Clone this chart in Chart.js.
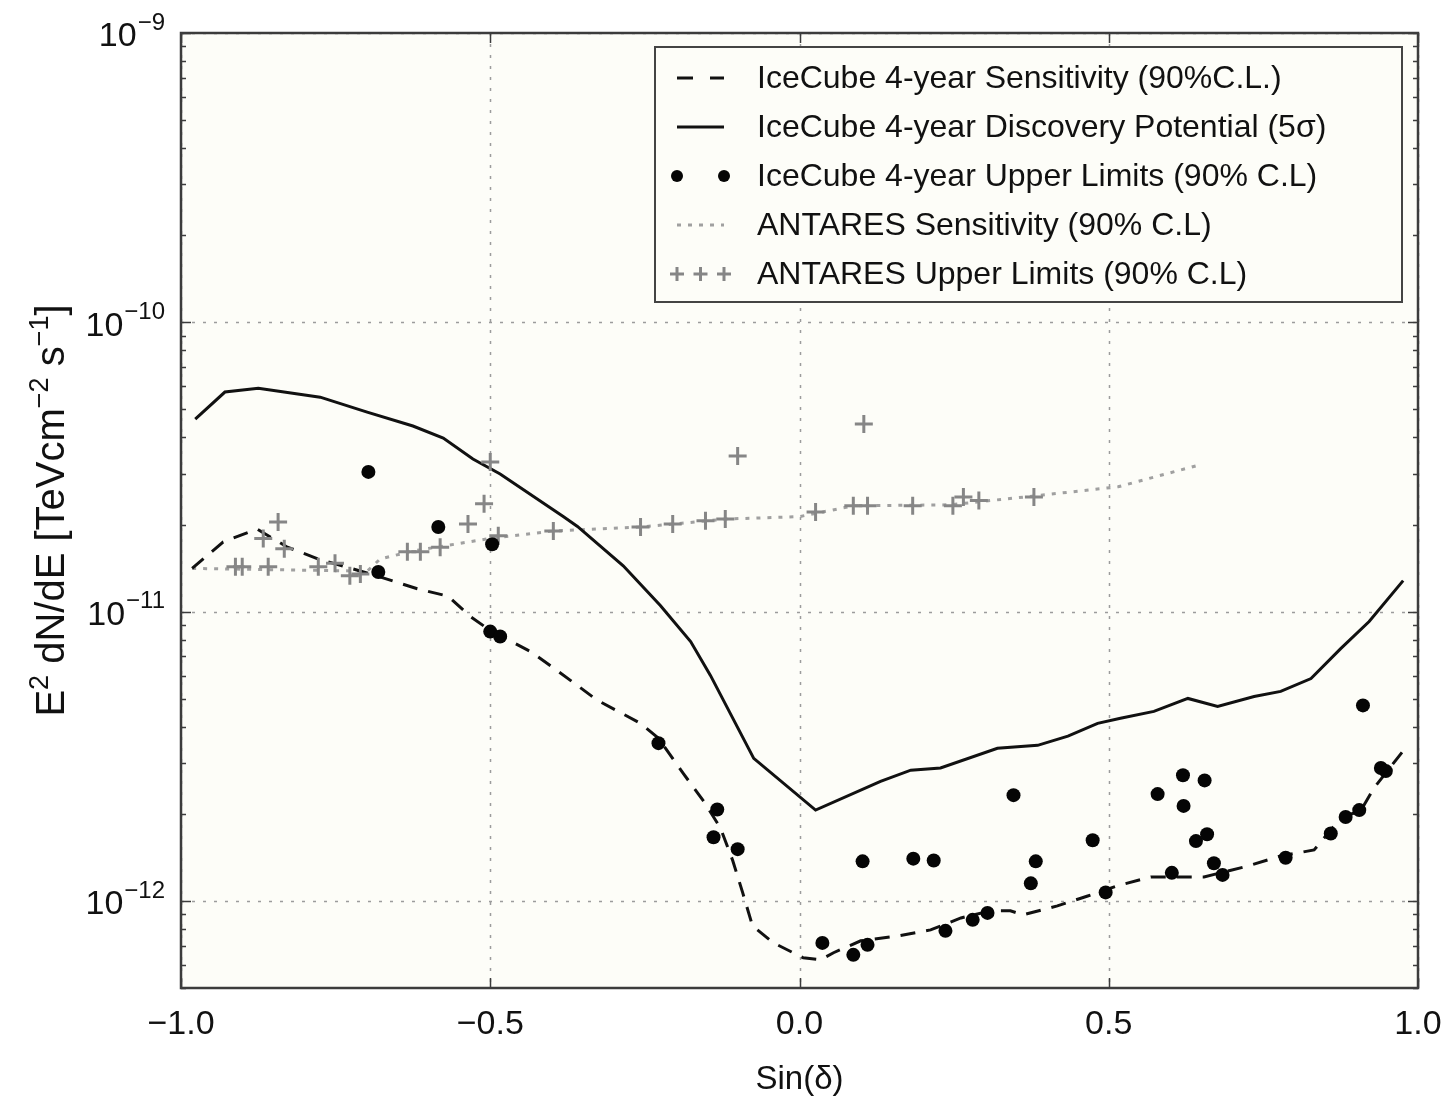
<!DOCTYPE html>
<html><head><meta charset="utf-8">
<script src="https://cdn.jsdelivr.net/npm/chart.js@4.4.0/dist/chart.umd.min.js"></script>
<style>html,body{margin:0;padding:0;background:#fff}canvas{display:block}</style>
</head><body>
<canvas id="c" width="1452" height="1100"></canvas>
<script>
// ---------------- data ----------------
const xTickValues = [-1, -0.5, 0, 0.5, 1];
const xTickLabels = ['\u22121.0', '\u22120.5', '0.0', '0.5', '1.0'];
const yTickExponents = [-9, -10, -11, -12];
const xRange = [-1, 1];
const yRange = [5e-13, 1e-9];
const xTitle = 'Sin(\u03b4)';

const seriesLabels = [
  'IceCube 4-year Sensitivity (90%C.L.)',
  'IceCube 4-year Discovery Potential (5\u03c3)',
  'IceCube 4-year Upper Limits (90% C.L)',
  'ANTARES Sensitivity (90% C.L)',
  'ANTARES Upper Limits (90% C.L)'
];

const sensX = [-0.982,-0.932,-0.877,-0.828,-0.778,-0.694,-0.618,-0.568,-0.532,-0.5,-0.435,-0.392,-0.327,-0.257,-0.228,-0.188,-0.155,-0.128,-0.108,-0.092,-0.076,-0.042,0.006,0.034,0.055,0.099,0.160,0.212,0.261,0.309,0.341,0.361,0.417,0.466,0.515,0.568,0.654,0.725,0.778,0.832,0.875,0.908,0.929,0.977];
const sensY = [1.41e-11,1.74e-11,1.93e-11,1.67e-11,1.52e-11,1.35e-11,1.20e-11,1.13e-11,9.61e-12,8.6e-12,7.28e-12,6.26e-12,4.94e-12,4.11e-12,3.65e-12,2.76e-12,2.21e-12,1.79e-12,1.38e-12,1.07e-12,8.20e-13,7.16e-13,6.36e-13,6.26e-13,6.62e-13,7.28e-13,7.57e-13,7.94e-13,8.73e-13,9.24e-13,9.24e-13,8.95e-13,9.61e-13,1.04e-12,1.13e-12,1.21e-12,1.21e-12,1.32e-12,1.43e-12,1.50e-12,1.93e-12,2.06e-12,2.46e-12,3.32e-12];

const discX = [-0.977,-0.929,-0.875,-0.775,-0.699,-0.625,-0.576,-0.528,-0.484,-0.382,-0.359,-0.285,-0.225,-0.176,-0.144,-0.074,0.026,0.131,0.180,0.228,0.320,0.385,0.434,0.482,0.519,0.573,0.628,0.676,0.735,0.778,0.827,0.875,0.921,0.976];
const discY = [4.63e-11,5.74e-11,5.92e-11,5.51e-11,4.89e-11,4.38e-11,3.98e-11,3.37e-11,2.99e-11,2.13e-11,1.97e-11,1.44e-11,1.05e-11,7.88e-12,6.02e-12,3.11e-12,2.06e-12,2.59e-12,2.83e-12,2.88e-12,3.37e-12,3.45e-12,3.71e-12,4.11e-12,4.28e-12,4.52e-12,5.01e-12,4.70e-12,5.09e-12,5.30e-12,5.87e-12,7.45e-12,9.24e-12,1.28e-11];

const ulX = [-0.697,-0.584,-0.681,-0.497,-0.500,-0.484,-0.228,-0.133,-0.139,-0.100,0.102,0.037,0.087,0.110,0.346,0.184,0.217,0.382,0.374,0.474,0.236,0.280,0.304,0.495,0.911,0.620,0.655,0.579,0.621,0.641,0.659,0.670,0.684,0.602,0.786,0.859,0.883,0.905,0.940,0.948];
const ulY = [3.04e-11,1.96e-11,1.37e-11,1.71e-11,8.53e-12,8.20e-12,3.51e-12,2.07e-12,1.66e-12,1.51e-12,1.37e-12,7.16e-13,6.51e-13,7.05e-13,2.32e-12,1.40e-12,1.38e-12,1.37e-12,1.15e-12,1.62e-12,7.88e-13,8.60e-13,9.09e-13,1.07e-12,4.74e-12,2.72e-12,2.61e-12,2.34e-12,2.13e-12,1.61e-12,1.70e-12,1.35e-12,1.23e-12,1.25e-12,1.41e-12,1.71e-12,1.95e-12,2.06e-12,2.88e-12,2.81e-12];

const antSensX = [-0.982,-0.699,-0.678,-0.625,-0.5,-0.398,-0.257,-0.117,0.0,0.087,0.244,0.379,0.515,0.641];
const antSensY = [1.41e-11,1.38e-11,1.52e-11,1.62e-11,1.79e-11,1.90e-11,1.96e-11,2.09e-11,2.13e-11,2.32e-11,2.34e-11,2.51e-11,2.70e-11,3.19e-11];

const antUlX = [-0.912,-0.901,-0.859,-0.843,-0.867,-0.833,-0.778,-0.751,-0.727,-0.710,-0.634,-0.613,-0.581,-0.536,-0.510,-0.500,-0.487,-0.398,-0.257,-0.205,-0.152,-0.120,-0.100,0.026,0.087,0.110,0.104,0.183,0.248,0.265,0.290,0.379];
const antUlY = [1.43e-11,1.43e-11,1.43e-11,2.04e-11,1.79e-11,1.65e-11,1.43e-11,1.47e-11,1.33e-11,1.35e-11,1.61e-11,1.61e-11,1.67e-11,2.01e-11,2.36e-11,3.29e-11,1.83e-11,1.90e-11,1.96e-11,2.01e-11,2.06e-11,2.09e-11,3.45e-11,2.21e-11,2.32e-11,2.32e-11,4.45e-11,2.32e-11,2.32e-11,2.49e-11,2.42e-11,2.49e-11];

// ---------------- styling ----------------
const FONT = '"Liberation Sans", Arial, Helvetica, sans-serif';
const PLOT_BG = '#fdfdf8';
const FRAME = '#3c3c3c';
const GRID = '#9c9c9c';
const ANT_GRAY = '#868686';
const ANT_LINE = '#a0a0a0';

function pts(xs, ys) { return xs.map((x, i) => ({ x: x, y: ys[i] })); }

const decor = {
  id: 'decor',
  beforeDraw(chart) {
    const { ctx, chartArea: a } = chart;
    ctx.save();
    ctx.fillStyle = '#ffffff';
    ctx.fillRect(0, 0, chart.width, chart.height);
    ctx.fillStyle = PLOT_BG;
    ctx.fillRect(a.left, a.top, a.right - a.left, a.bottom - a.top);
    ctx.restore();
  },
  beforeDatasetsDraw(chart) {
    const { ctx, chartArea: a, scales } = chart;
    const xs = scales.x, ys = scales.y;
    ctx.save();
    ctx.strokeStyle = GRID;
    ctx.lineWidth = 1.5;
    ctx.setLineDash([3, 8]);
    xTickValues.forEach(v => {
      const px = Math.round(xs.getPixelForValue(v)) + 0.5;
      ctx.beginPath(); ctx.moveTo(px, a.top); ctx.lineTo(px, a.bottom); ctx.stroke();
    });
    yTickExponents.forEach(e => {
      const py = Math.round(ys.getPixelForValue(Math.pow(10, e))) + 0.5;
      ctx.beginPath(); ctx.moveTo(a.left, py); ctx.lineTo(a.right, py); ctx.stroke();
    });
    ctx.restore();
  },
  afterDraw(chart) {
    const { ctx, chartArea: a, scales } = chart;
    const xs = scales.x, ys = scales.y;
    ctx.save();
    // tick marks
    ctx.strokeStyle = FRAME;
    ctx.lineWidth = 1.5;
    ctx.setLineDash([]);
    xTickValues.forEach(v => {
      const px = Math.round(xs.getPixelForValue(v)) + 0.5;
      ctx.beginPath();
      ctx.moveTo(px, a.bottom); ctx.lineTo(px, a.bottom - 10);
      ctx.moveTo(px, a.top); ctx.lineTo(px, a.top + 10);
      ctx.stroke();
    });
    const lo = Math.floor(Math.log10(yRange[0])), hi = Math.ceil(Math.log10(yRange[1]));
    for (let e = lo; e <= hi; e++) {
      for (let m = 1; m <= 9; m++) {
        const v = m * Math.pow(10, e);
        if (v < yRange[0] * 0.999 || v > yRange[1] * 1.001) continue;
        const py = Math.round(ys.getPixelForValue(v)) + 0.5;
        const len = m === 1 ? 10 : 5;
        ctx.beginPath();
        ctx.moveTo(a.left, py); ctx.lineTo(a.left + len, py);
        ctx.moveTo(a.right, py); ctx.lineTo(a.right - len, py);
        ctx.stroke();
      }
    }
    // frame
    ctx.lineWidth = 2.5;
    ctx.strokeStyle = FRAME;
    ctx.strokeRect(a.left, a.top, a.right - a.left, a.bottom - a.top);

    // y tick labels with superscripts
    ctx.fillStyle = '#111';
    ctx.textBaseline = 'middle';
    const rightEdge = a.left - 16;
    yTickExponents.forEach(e => {
      const py = ys.getPixelForValue(Math.pow(10, e));
      const expTxt = '\u2212' + Math.abs(e);
      ctx.font = '24px ' + FONT;
      const we = ctx.measureText(expTxt).width;
      ctx.textAlign = 'left';
      ctx.fillText(expTxt, rightEdge - we, py - 10);
      ctx.font = '34px ' + FONT;
      ctx.textAlign = 'right';
      ctx.fillText('10', rightEdge - we - 1, py + 4);
    });

    // y axis title with superscripts
    const segs = [
      ['E', 0], ['2', 1], [' dN/dE [TeVcm', 0], ['\u22122', 1], [' s', 0], ['\u22121', 1], [']', 0]
    ];
    const baseF = '40px ' + FONT, supF = '27px ' + FONT;
    let total = 0;
    segs.forEach(s => { ctx.font = s[1] ? supF : baseF; total += ctx.measureText(s[0]).width; });
    ctx.translate(64, (a.top + a.bottom) / 2);
    ctx.rotate(-Math.PI / 2);
    ctx.textAlign = 'left';
    ctx.textBaseline = 'alphabetic';
    let cx = -total / 2;
    segs.forEach(s => {
      ctx.font = s[1] ? supF : baseF;
      ctx.fillText(s[0], cx, s[1] ? -16 : 0);
      cx += ctx.measureText(s[0]).width;
    });
    ctx.setTransform(1, 0, 0, 1, 0, 0);

    // legend
    const L = { x: 655, y: 47, w: 747, h: 255 };
    ctx.fillStyle = PLOT_BG;
    ctx.fillRect(L.x, L.y, L.w, L.h);
    ctx.lineWidth = 2;
    ctx.strokeStyle = '#444';
    ctx.strokeRect(L.x, L.y, L.w, L.h);
    const rowY0 = 78, rowDY = 49, hx0 = 677, hx1 = 724, tx = 757;
    const ds = chart.data.datasets;
    ds.forEach((d, i) => {
      const y = rowY0 + i * rowDY;
      ctx.save();
      if (d.showLine) {
        ctx.strokeStyle = d.borderColor;
        ctx.lineWidth = d.borderWidth;
        ctx.setLineDash(d.legendDash || []);
        ctx.beginPath(); ctx.moveTo(hx0, y); ctx.lineTo(hx1, y); ctx.stroke();
      } else if (d.pointStyle === 'cross') {
        ctx.strokeStyle = d.borderColor;
        ctx.lineWidth = d.borderWidth;
        [hx0, (hx0 + hx1) / 2, hx1].forEach(px => {
          const r = 7;
          ctx.beginPath();
          ctx.moveTo(px - r, y); ctx.lineTo(px + r, y);
          ctx.moveTo(px, y - r); ctx.lineTo(px, y + r);
          ctx.stroke();
        });
      } else {
        ctx.fillStyle = d.backgroundColor;
        [hx0, hx1].forEach(px => {
          ctx.beginPath(); ctx.arc(px, y, 6, 0, Math.PI * 2); ctx.fill();
        });
      }
      ctx.restore();
      ctx.fillStyle = '#111';
      ctx.font = '32px ' + FONT;
      ctx.textAlign = 'left';
      ctx.textBaseline = 'middle';
      ctx.fillText(d.label, tx, y + 1);
    });
    ctx.restore();
  }
};

new Chart(document.getElementById('c'), {
  type: 'scatter',
  data: {
    datasets: [
      { label: seriesLabels[0], data: pts(sensX, sensY), showLine: true, borderColor: '#111', borderWidth: 3,
        borderDash: [15, 11], legendDash: [16, 17], pointRadius: 0, fill: false, tension: 0, order: 3 },
      { label: seriesLabels[1], data: pts(discX, discY), showLine: true, borderColor: '#111', borderWidth: 3,
        pointRadius: 0, fill: false, tension: 0, order: 4 },
      { label: seriesLabels[2], data: pts(ulX, ulY), showLine: false, backgroundColor: '#050505',
        borderColor: '#050505', borderWidth: 0, pointRadius: 7, order: 1 },
      { label: seriesLabels[3], data: pts(antSensX, antSensY), showLine: true, borderColor: ANT_LINE, borderWidth: 3,
        borderDash: [4, 7], legendDash: [4, 7], pointRadius: 0, fill: false, tension: 0, order: 5 },
      { label: seriesLabels[4], data: pts(antUlX, antUlY), showLine: false, pointStyle: 'cross',
        pointRadius: 9, borderWidth: 3, borderColor: ANT_GRAY, backgroundColor: ANT_GRAY, order: 2 }
    ]
  },
  options: {
    responsive: false,
    animation: false,
    devicePixelRatio: 1,
    events: [],
    layout: { padding: { top: 33, right: 34, left: 0, bottom: 0 } },
    plugins: { legend: { display: false }, tooltip: { enabled: false } },
    scales: {
      x: {
        type: 'linear', min: xRange[0], max: xRange[1],
        afterBuildTicks: s => { s.ticks = xTickValues.map(v => ({ value: v })); },
        afterFit: s => { s.height = 112; s.paddingLeft = 0; s.paddingRight = 0; },
        grid: { display: false, drawTicks: false },
        border: { display: false },
        ticks: {
          autoSkip: false, maxRotation: 0, padding: 16, color: '#111',
          font: { family: FONT, size: 34 },
          callback: (v, i) => xTickLabels[i]
        },
        title: { display: true, text: xTitle, color: '#111', font: { family: FONT, size: 33 }, padding: { top: 0, bottom: 0 } }
      },
      y: {
        type: 'logarithmic', min: yRange[0], max: yRange[1],
        afterBuildTicks: s => { s.ticks = yTickExponents.map(e => ({ value: Math.pow(10, e) })); },
        afterFit: s => { s.width = 181; s.paddingTop = 0; s.paddingBottom = 0; },
        grid: { display: false, drawTicks: false },
        border: { display: false },
        ticks: { display: false }
      }
    }
  },
  plugins: [decor]
});
</script>
</body></html>
